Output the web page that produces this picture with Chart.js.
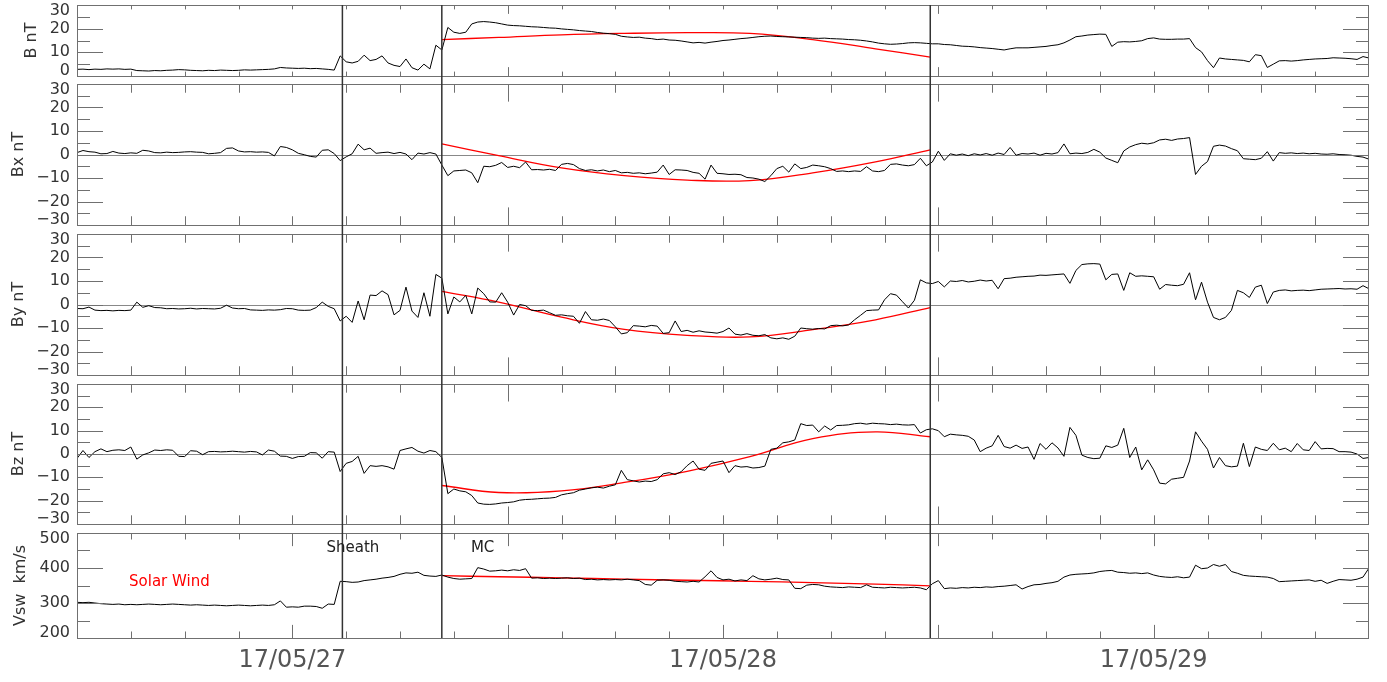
<!DOCTYPE html>
<html>
<head>
<meta charset="utf-8">
<script src="https://cdn.jsdelivr.net/npm/chart.js@4.4.1/dist/chart.umd.min.js"></script>
<style>
  body { margin: 0; background: #fff; overflow: hidden; }
  #wrap { position: relative; width: 1387px; height: 682px; }
  canvas { position: absolute; left: 0; }
</style>
</head>
<body>
<div id="wrap">
  <canvas id="c1" width="1387" height="80" style="top:0"></canvas>
  <canvas id="c2" width="1387" height="150" style="top:80px"></canvas>
  <canvas id="c3" width="1387" height="150" style="top:230px"></canvas>
  <canvas id="c4" width="1387" height="149" style="top:380px"></canvas>
  <canvas id="c5" width="1387" height="153" style="top:529px"></canvas>
</div>
<script>
// 20-minute samples starting 2017-05-26 12:00 UT (x axis in hours)
const B = [
  2.8, 2.9, 2.7, 2.9, 2.8, 3.0, 2.9, 3.0, 2.8, 2.9, 2.3, 2.2,
  2.1, 2.3, 2.2, 2.4, 2.5, 2.7, 2.6, 2.4, 2.3, 2.2, 2.4, 2.3,
  2.5, 2.4, 2.3, 2.4, 2.6, 2.5, 2.6, 2.7, 2.8, 3.0, 3.6, 3.4,
  3.3, 3.2, 3.3, 3.1, 3.2, 3.0, 2.8, 2.5, 8.5, 6.0, 5.5, 6.2,
  8.8, 6.5, 7.0, 8.5, 5.5, 4.5, 4.0, 7.2, 3.5, 2.5, 5.0, 3.0,
  13.0, 11.0, 20.5, 18.5, 18.0, 18.5, 22.0, 22.8, 23.0, 22.8, 22.5, 22.0,
  21.5, 21.3, 21.2, 21.0, 20.8, 20.7, 20.5, 20.3, 20.2, 19.9, 19.7, 19.5,
  19.2, 19.0, 18.8, 18.4, 18.1, 17.9, 17.6, 16.8, 16.5, 16.3, 16.4, 16.0,
  15.8, 15.4, 15.6, 15.2, 15.1, 14.8, 14.4, 14.0, 14.2, 13.9, 14.3, 14.6,
  15.0, 15.2, 15.5, 15.8, 16.0, 16.3, 16.6, 16.8, 16.9, 16.7, 16.6, 16.5,
  16.4, 16.3, 16.2, 16.0, 15.9, 16.0, 15.8, 15.7, 15.6, 15.4, 15.3, 15.1,
  14.8, 14.4, 13.9, 13.6, 13.4, 13.5, 13.7, 14.0, 14.1, 14.0, 13.8, 13.6,
  13.6, 13.3, 13.2, 12.9, 12.6, 12.5, 12.3, 12.0, 11.8, 11.6, 11.3, 11.0,
  11.5, 11.9, 11.9, 11.9, 12.1, 12.3, 12.5, 12.9, 13.2, 14.0, 15.2, 16.6,
  16.9, 17.3, 17.5, 17.7, 17.6, 12.5, 14.3, 14.5, 14.4, 14.6, 14.9, 15.8,
  16.1, 15.6, 15.5, 15.5, 15.6, 15.6, 15.8, 12.0, 10.2, 6.5, 3.5, 7.6,
  7.2, 7.0, 6.8, 6.6, 6.0, 9.0, 8.6, 3.6, 5.0, 6.4, 6.5, 6.3,
  6.5, 6.8, 7.0, 7.2, 7.3, 7.4, 7.7, 7.6, 7.5, 7.3, 7.0, 8.2,
  7.6
];
const Bx = [
  0.8, 1.7, 1.2, 1.0, 0.3, 0.4, 1.3, 0.6, 0.4, 0.7, 0.5, 1.8,
  1.5, 0.8, 0.7, 1.0, 0.8, 0.9, 1.1, 1.2, 1.0, 0.9, 0.3, 0.5,
  0.8, 2.6, 2.8, 1.5, 1.1, 1.2, 1.0, 1.1, 0.9, -0.6, 3.4, 3.0,
  2.0, 0.5, -0.1, -0.8, -1.1, 1.8, 2.0, 0.4, -2.6, -1.0, 0.3, 4.4,
  2.0, 2.7, 0.5, 0.8, 1.0, 0.4, 0.9, 0.2, -2.2, 0.6, 0.2, 0.8,
  0.2, -4.5, -9.0, -7.0, -6.8, -6.6, -7.8, -12.0, -5.0, -5.2, -4.6, -3.4,
  -5.5, -5.0, -5.6, -3.2, -6.5, -6.4, -6.6, -6.3, -6.8, -4.2, -3.8, -4.3,
  -6.0, -6.8, -6.5, -7.0, -6.6, -7.3, -6.8, -7.8, -7.6, -8.0, -7.8, -8.2,
  -7.9, -7.5, -4.5, -8.5, -6.5, -6.6, -6.8, -7.6, -8.0, -10.5, -4.5, -8.0,
  -8.2, -8.5, -8.4, -8.6, -9.8, -10.0, -10.5, -11.5, -9.0, -6.0, -5.0, -7.5,
  -4.0, -6.0, -5.5, -4.5, -4.8, -5.2, -6.0, -7.2, -7.0, -7.3, -7.0, -7.2,
  -5.2, -7.0, -7.3, -6.8, -4.2, -4.0, -4.5, -4.8, -4.3, -1.6, -4.8, -3.2,
  1.4, -2.5, 0.3, -0.3, 0.2, -0.5, 0.3, -0.2, 0.4, -0.3, 0.6, 0.0,
  3.0, -0.3, 0.4, 0.2, 0.6, -0.3, 0.5, 0.2, 0.8, 4.5, 0.3, 0.6,
  0.4, 0.9, 2.2, 1.0, -1.5, -2.5, -3.5, 1.5, 3.2, 4.2, 4.8, 4.5,
  5.0, 6.2, 6.5, 6.0, 6.6, 6.8, 7.2, -8.5, -5.0, -3.0, 3.5, 4.0,
  3.6, 2.5, 1.6, -1.8, -2.0, -2.2, -1.6, 1.2, -2.8, 0.8, 0.5, 0.7,
  0.4, 0.6, 0.3, 0.5, 0.2, 0.1, 0.3, 0.0, -0.1, -0.3, -0.8, -1.1,
  -2.0
];
const By = [
  -1.7, -1.8, -1.1, -2.4, -2.6, -2.5, -2.7, -2.5, -2.6, -2.4, 1.0, -1.2,
  -0.5, -1.3, -1.4, -1.8, -1.7, -1.9, -1.8, -1.6, -1.9, -1.7, -1.8, -1.9,
  -1.6, -0.3, -1.5, -1.8, -1.7, -2.3, -2.4, -2.5, -2.3, -2.4, -2.2, -1.7,
  -1.8, -2.4, -2.5, -2.4, -1.3, 1.0, -0.8, -1.8, -7.0, -5.0, -7.6, 1.5,
  -6.5, 4.0, 3.8, 5.8, 4.2, -4.4, -2.5, 7.4, -2.8, -5.5, 5.0, -5.0,
  12.8, 11.2, -4.0, 3.2, 1.1, 3.9, -4.0, 7.0, 4.6, 1.1, 1.0, 5.0,
  1.0, -4.5, 0.0, -0.5, -2.5, -2.6, -2.4, -3.5, -4.6, -4.4, -4.8, -5.0,
  -8.0, -3.0, -6.5, -6.7, -6.2, -6.8, -9.5, -12.5, -12.0, -9.0, -9.2, -9.5,
  -8.9, -9.2, -12.3, -12.0, -7.0, -11.5, -11.0, -11.8, -11.2, -11.7, -11.9, -12.2,
  -11.5, -10.0, -12.6, -13.0, -12.4, -13.1, -13.3, -12.8, -14.2, -14.6, -14.2, -14.8,
  -13.5, -10.0, -10.3, -10.5, -10.2, -10.4, -9.0, -8.8, -9.1, -8.7, -6.5, -4.6,
  -2.6, -2.4, -2.3, 2.0, 4.6, 4.0, 1.2, -1.5, 1.8, 10.5, 9.2, 8.9,
  9.8, 7.5, 10.0, 9.8, 10.2, 9.6, 9.9, 10.4, 10.0, 10.3, 6.7, 11.0,
  11.2, 11.6, 11.8, 12.0, 12.1, 12.5, 12.4, 12.6, 12.8, 13.0, 9.0, 14.5,
  17.0, 17.3, 17.4, 17.2, 10.5, 12.8, 13.0, 6.0, 13.5, 12.0, 12.2, 12.0,
  11.8, 6.5, 8.5, 8.2, 8.0, 8.6, 13.5, 2.0, 9.5, 1.0, -5.5, -6.5,
  -5.5, -2.5, 6.0, 5.0, 3.0, 7.4, 8.2, 0.4, 5.3, 6.0, 6.2, 5.8,
  6.0, 6.1, 5.9, 6.2, 6.5, 6.6, 6.7, 6.8, 6.6, 6.7, 6.5, 8.0,
  6.7
];
const Bz = [
  -1.9, 1.5, -1.5, 1.0, 2.2, 1.0, 1.6, 1.8, 1.5, 3.0, -2.2, -0.4,
  0.5, 1.7, 1.5, 1.8, 1.6, -1.0, -1.1, 1.4, 1.2, -0.3, 1.0, 1.1,
  0.9, 1.0, 1.2, 1.0, 0.8, 1.1, 0.9, -0.4, 1.7, 1.2, -0.9, -1.0,
  -1.9, -1.1, -1.0, 0.6, 0.5, -1.8, 1.0, 0.8, -7.5, -4.0, -3.2, -1.0,
  -8.3, -5.0, -5.3, -5.0, -5.5, -6.5, 1.5, 2.2, 2.8, 1.2, 0.4, 1.5,
  1.0, -1.5, -17.0, -15.0, -15.8, -16.2, -17.8, -21.0, -21.5, -21.6, -21.4, -21.0,
  -20.8, -20.5, -19.8, -19.5, -19.4, -19.2, -19.0, -18.9, -18.6, -17.5, -17.0, -16.6,
  -15.5, -15.0, -14.5, -14.2, -14.6, -13.8, -13.2, -7.0, -11.0, -11.5, -12.0, -11.6,
  -11.8, -11.0, -8.5, -8.0, -8.8, -7.6, -5.0, -3.0, -6.5, -7.0, -4.0, -3.5,
  -3.0, -8.0, -5.0, -5.6, -5.4, -6.0, -5.8, -5.2, 2.0, 2.5, 4.8, 5.2,
  6.0, 13.0, 12.2, 12.4, 9.5, 12.0, 10.3, 12.2, 12.3, 12.5, 13.0, 13.2,
  12.8, 13.2, 13.0, 12.9, 12.6, 12.8, 12.5, 12.4, 12.6, 9.0, 10.4, 10.8,
  10.0, 7.4, 8.5, 8.2, 8.0, 7.6, 6.0, 1.0, 2.5, 3.5, 8.0, 3.2,
  2.5, 3.8, 2.4, 3.0, -2.3, 4.5, 2.0, 4.8, 2.6, -1.0, 11.4, 8.0,
  -0.5, -1.5, -2.0, -1.8, 3.5, 2.8, 3.8, 11.0, -1.5, 3.0, -6.8, -2.5,
  -6.8, -12.5, -12.8, -10.8, -10.4, -10.0, -3.0, 9.5, 5.5, 2.0, -6.0, -1.5,
  -5.0, -5.5, -5.2, 4.6, -5.4, 3.0, 2.0, 1.5, 4.6, 1.8, 2.5, 1.0,
  4.5, 1.8, 1.5, 5.3, 2.2, 2.4, 2.3, 1.0, 1.0, 0.8, 0.0, -1.9,
  -1.5
];
const Vsw = [
  302, 301, 302, 300, 298, 297, 296, 297, 295, 296, 295, 296,
  297, 296, 295, 296, 297, 296, 295, 294, 295, 294, 293, 294,
  293, 292, 293, 294, 293, 292, 293, 294, 293, 295, 306, 288,
  289, 288, 291, 291, 290, 285, 297, 296, 362, 361, 359, 360,
  364, 366, 368, 371, 373, 376, 382, 386, 385, 388, 379, 377,
  376, 380, 374, 370, 368, 369, 370, 401, 397, 391, 392, 394,
  392, 395, 393, 398, 371, 372, 370, 371, 370, 371, 372, 370,
  371, 367, 368, 366, 367, 366, 367, 366, 368, 366, 364, 353,
  351, 365, 366, 365, 362, 361, 360, 362, 360, 375, 392, 373,
  366, 368, 363, 366, 364, 378, 369, 366, 368, 371, 367, 366,
  342, 341, 351, 353, 352, 348, 346, 345, 344, 346, 345, 344,
  352, 345, 344, 343, 345, 344, 343, 344, 345, 343, 338, 355,
  364, 341, 343, 342, 344, 343, 345, 344, 346, 345, 347, 348,
  350, 352, 340, 347, 352, 353, 356, 358, 362, 374, 380, 382,
  383, 384, 386, 390, 392, 393, 388, 387, 385, 386, 384, 386,
  380, 376, 374, 373, 375, 372, 374, 408, 398, 400, 410, 405,
  410, 390, 385, 379, 377, 376, 375, 374, 370, 361, 362, 363,
  364, 365, 366, 362, 365, 356, 362, 367, 366, 365, 368, 374,
  400
];

// magnetic cloud fit (red), sampled at these hours
const fitHours = [20.33, 23.5, 27, 30.5, 34, 37.5, 41, 44.5, 47.55];
const bFit  = [15.4, 16.3, 17.4, 18.0, 18.3, 18.0, 15.4, 11.5, 8.0];
const bxFit = [4.5, -0.5, -5.7, -9.0, -10.9, -11.1, -7.8, -3.1, 2.0];
const byFit = [5.6, 1.0, -5.4, -10.6, -13.1, -13.8, -10.7, -6.5, -1.3];
const bzFit = [-13.5, -16.5, -15.8, -12.2, -7.4, -1.1, 6.6, 9.5, 7.4];
const vFit  = [378, 375, 372, 368, 365, 362, 358, 354, 349];

// shock / MC start / MC end
const eventHours = [14.79, 20.33, 47.55];
const dayTicks = [12, 36, 60];
const dayLabels = ['17/05/27', '17/05/28', '17/05/29'];
const notes = [
  { text: 'Sheath', h: 13.9, v: 446, color: '#222' },
  { text: 'MC', h: 21.95, v: 446, color: '#222' },
  { text: 'Solar Wind', h: 2.9, v: 348, color: '#ff0000' }
];

const times = B.map((_, i) => i / 3);
const xy = (ts, vs) => vs.map((v, i) => ({ x: ts[i], y: v }));

const idlFrame = {
  id: 'idl',
  beforeDatasetsDraw(chart, args, o) {
    if (!o.zero) return;
    const { ctx, chartArea: a, scales: { y } } = chart;
    const py = Math.round(y.getPixelForValue(0)) + 0.5;
    ctx.save();
    ctx.strokeStyle = '#888';
    ctx.lineWidth = 1;
    ctx.beginPath();
    ctx.moveTo(a.left, py);
    ctx.lineTo(a.right, py);
    ctx.stroke();
    ctx.restore();
  },
  afterDatasetsDraw(chart, args, o) {
    const { ctx, chartArea: a, scales: { x, y } } = chart;
    ctx.save();
    ctx.strokeStyle = '#707070';
    ctx.lineWidth = 1;
    ctx.strokeRect(a.left + 0.5, a.top + 0.5, a.right - a.left - 1, a.bottom - a.top);

    // x ticks every 3 h, pointing inward from top and bottom
    ctx.beginPath();
    const hgt = a.bottom - a.top;
    for (let h = 3; h < 72; h += 3) {
      const len = o.major(h) ? hgt * 0.125 : hgt * 0.062;
      const px = Math.round(x.getPixelForValue(h)) + 0.5;
      ctx.moveTo(px, a.top); ctx.lineTo(px, a.top + len);
      ctx.moveTo(px, a.bottom); ctx.lineTo(px, a.bottom - len);
    }
    // y ticks, left and right
    for (let v = y.min + o.minor; v < y.max; v += o.minor) {
      const len = (v - y.min) % o.majorStep === 0 ? 26 : 13;
      const py = Math.round(y.getPixelForValue(v)) + 0.5;
      ctx.moveTo(a.left, py); ctx.lineTo(a.left + len, py);
      ctx.moveTo(a.right, py); ctx.lineTo(a.right - len, py);
    }
    ctx.stroke();

    // event boundaries run through all panels
    ctx.strokeStyle = '#333';
    ctx.lineWidth = 1.5;
    ctx.beginPath();
    eventHours.forEach(h => {
      const px = x.getPixelForValue(h);
      ctx.moveTo(px, o.first ? a.top : 0);
      ctx.lineTo(px, o.last ? a.bottom : chart.height);
    });
    ctx.stroke();

    (o.notes || []).forEach(n => {
      ctx.fillStyle = n.color;
      ctx.font = '15px "DejaVu Sans"';
      ctx.textAlign = 'left';
      ctx.textBaseline = 'alphabetic';
      ctx.fillText(n.text, x.getPixelForValue(n.h), y.getPixelForValue(n.v));
    });
    ctx.restore();
  }
};

function yLabel(value, index, ticks) {
  const s = value < 0 ? '\u2212' + Math.abs(value) : String(value);
  if (index === ticks.length - 1) return ['', s];
  if (index === 0) return [s, ''];
  return s;
}

const noonOnly = h => h % 24 === 0;
const every12 = h => h % 12 === 0;

const panels = [
  { id: 'c1', title: 'B nT', data: B, fit: bFit, min: 0, max: 30, step: 10, minor: 5, padLeft: 22, padTop: 5, padBottom: 4, zero: false },
  { id: 'c2', title: 'Bx nT', data: Bx, fit: bxFit, min: -30, max: 30, step: 10, minor: 5, padLeft: 9, padTop: 4, padBottom: 5, zero: true },
  { id: 'c3', title: 'By nT', data: By, fit: byFit, min: -30, max: 30, step: 10, minor: 5, padLeft: 9, padTop: 4, padBottom: 5, zero: true },
  { id: 'c4', title: 'Bz nT', data: Bz, fit: bzFit, min: -30, max: 30, step: 10, minor: 5, padLeft: 9, padTop: 4, padBottom: 5, zero: true },
  { id: 'c5', title: 'Vsw  km/s', data: Vsw, fit: vFit, min: 200, max: 500, step: 100, minor: 50, padLeft: 11, padTop: 4, padBottom: 0, zero: false }
];

panels.forEach((p, i) => {
  const first = i === 0;
  const last = i === panels.length - 1;
  new Chart(document.getElementById(p.id), {
    type: 'line',
    data: {
      datasets: [
        { data: xy(times, p.data), borderColor: '#000', borderWidth: 1, pointRadius: 0, tension: 0 },
        { data: xy(fitHours, p.fit), borderColor: '#ff0000', borderWidth: 1.3, pointRadius: 0, tension: 0.4 }
      ]
    },
    options: {
      responsive: false,
      animation: false,
      devicePixelRatio: 1,
      events: [],
      layout: { padding: { left: p.padLeft, right: 18, top: p.padTop, bottom: p.padBottom } },
      plugins: {
        legend: { display: false },
        tooltip: { enabled: false },
        idl: {
          first, last, zero: p.zero, minor: p.minor, majorStep: p.step,
          major: last ? every12 : noonOnly,
          notes: last ? notes : []
        }
      },
      scales: {
        x: {
          type: 'linear', min: 0, max: 72, display: last,
          grid: { display: false, drawTicks: false },
          border: { display: false },
          ticks: {
            stepSize: 12, autoSkip: false, maxRotation: 0, padding: 8,
            color: '#555',
            font: { family: 'DejaVu Sans', size: 24 },
            callback: v => { const k = dayTicks.indexOf(v); return k >= 0 ? dayLabels[k] : ''; }
          },
          afterFit(s) {
            if (!last) return;
            s.height = 44; s.paddingLeft = 0; s.paddingRight = 0;
          }
        },
        y: {
          min: p.min, max: p.max,
          grid: { display: false, drawTicks: false },
          border: { display: false },
          ticks: {
            stepSize: p.step, autoSkip: false, padding: 7, color: '#333',
            font: { family: 'DejaVu Sans', size: 16, lineHeight: 0.7 },
            callback: yLabel
          },
          title: {
            display: true, text: p.title, color: '#333', padding: 0,
            font: { family: 'DejaVu Sans', size: 16 }
          },
          afterFit(s) { s.width = 77 - p.padLeft; s.paddingTop = 0; s.paddingBottom = 0; }
        }
      }
    },
    plugins: [idlFrame]
  });
});
</script>
</body>
</html>
